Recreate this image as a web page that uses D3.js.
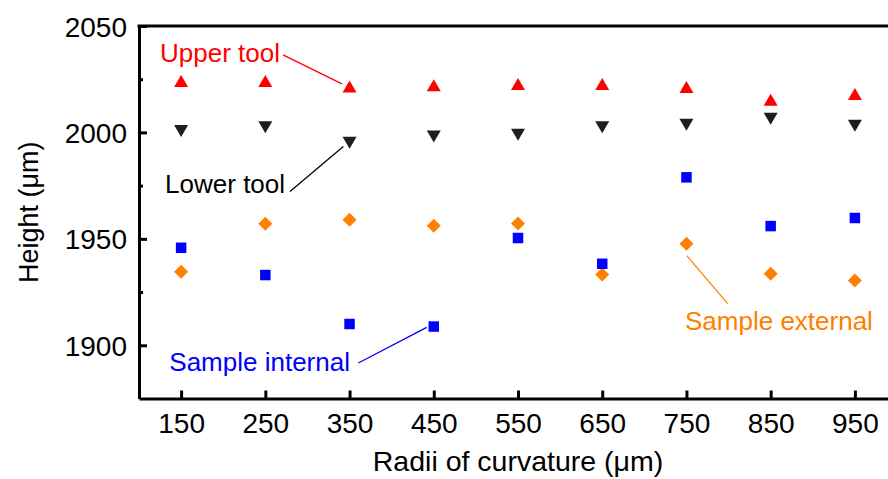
<!DOCTYPE html>
<html>
<head>
<meta charset="utf-8">
<script src="https://cdn.jsdelivr.net/npm/d3@7/dist/d3.min.js"></script>
<style>
  html, body { margin: 0; padding: 0; background: #fff; }
  svg { display: block; }
  text { font-family: "Liberation Sans", Arial, sans-serif; }
</style>
</head>
<body>
<svg id="chart" width="888" height="479"></svg>
<script>
// ---- data ----
const radii = [150, 250, 350, 450, 550, 650, 750, 850, 950];
const upperTool = [2024.2, 2024.2, 2021.6, 2022.2, 2022.7, 2022.8, 2021.4, 2015.3, 2018.1];
const lowerTool = [2000.7, 2002.4, 1995.2, 1998.1, 1998.9, 2002.4, 2003.6, 2006.4, 2003.1];
const sampleInternal = [1945.8, 1933.0, 1910.0, 1908.8, 1950.4, 1938.3, 1978.9, 1956.0, 1959.8];
const sampleExternal = [1934.6, 1957.1, 1959.0, 1956.2, 1957.2, 1933.2, 1947.7, 1933.6, 1930.4];
const xTicks = [150, 250, 350, 450, 550, 650, 750, 850, 950];
const yTicks = [1900, 1950, 2000, 2050];
const yMinorTicks = [1925, 1975, 2025];
const xDomain = [100, 1000];
const yDomain = [1875, 2050];

// annotations in data units: label position and leader line ends
const labels = [
  { text: "Upper tool",      color: "#ff0000", x: 125, y: 2033.3, line: [[271, 2036.4], [341, 2022.8]] },
  { text: "Lower tool",      color: "#000000", x: 131, y: 1971.6, line: [[279.3, 1972.3], [342.6, 1993.4]] },
  { text: "Sample internal", color: "#0000ff", x: 136, y: 1887.8, line: [[360.4, 1891.7], [441.6, 1908.4]] },
  { text: "Sample external", color: "#ff8000", x: 748.3, y: 1907.4, line: [[750.3, 1942.1], [799, 1919.6]] }
];

// ---- layout ----
const svg = d3.select("#chart");
const mLeft = 139, mRight = 897, mTop = 26, mBottom = 398.5;
const x = d3.scaleLinear().domain(xDomain).range([mLeft, mRight]);
const y = d3.scaleLinear().domain(yDomain).range([mBottom, mTop]);

// marker shapes (centered at bbox center)
function triUp(w, h) { return `M0,${-h/2}L${w/2},${h/2}L${-w/2},${h/2}Z`; }
function triDown(w, h) { return `M0,${h/2}L${w/2},${-h/2}L${-w/2},${-h/2}Z`; }
function square(s) { return `M${-s/2},${-s/2}H${s/2}V${s/2}H${-s/2}Z`; }
function diamond(r) { return `M0,${-r}L${r},0L0,${r}L${-r},0Z`; }

const series = [
  { values: sampleExternal, color: "#ff8000", path: diamond(7) },
  { values: sampleInternal, color: "#0000ff", path: square(10.5) },
  { values: lowerTool,      color: "#1e1e1e", path: triDown(14, 12) },
  { values: upperTool,      color: "#ff0000", path: triUp(14, 12) }
];

series.forEach(s => {
  svg.append("g").selectAll("path")
    .data(radii.map((r, i) => [r, s.values[i]]))
    .join("path")
    .attr("d", s.path)
    .attr("fill", s.color)
    .attr("transform", d => `translate(${x(d[0])},${y(d[1])})`);
});

// ---- axes ----
const axisColor = "#000";
const fmt = d3.format("d");
const gx = svg.append("g").attr("transform", `translate(0,${mBottom})`)
  .call(d3.axisBottom(x).tickValues(xTicks).tickFormat(fmt).tickSize(-8).tickPadding(14).tickSizeOuter(0));
const gy = svg.append("g").attr("transform", `translate(${mLeft},0)`)
  .call(d3.axisLeft(y).tickValues(yTicks).tickFormat(fmt).tickSize(-8).tickPadding(12).tickSizeOuter(0));
const gym = svg.append("g").attr("transform", `translate(${mLeft},0)`)
  .call(d3.axisLeft(y).tickValues(yMinorTicks).tickSize(-4).tickFormat("").tickSizeOuter(0));
gym.select(".domain").remove();

[gx, gy, gym].forEach(g => {
  g.selectAll(".domain").attr("stroke", axisColor).attr("stroke-width", 3);
  g.selectAll(".tick line").attr("stroke", axisColor).attr("stroke-width", 3);
  g.selectAll(".tick text").attr("fill", "#000").style("font-size", "28px")
    .style("font-family", '"Liberation Sans", Arial, sans-serif');
});
gy.selectAll(".tick text").attr("dy", "0.36em");
gx.selectAll(".tick text").attr("dy", "0.72em");

// top and right frame
svg.append("line").attr("x1", mLeft - 1.5).attr("x2", mRight).attr("y1", mTop).attr("y2", mTop)
  .attr("stroke", axisColor).attr("stroke-width", 3);
svg.append("line").attr("x1", mRight).attr("x2", mRight).attr("y1", mTop).attr("y2", mBottom)
  .attr("stroke", axisColor).attr("stroke-width", 3);

// axis titles
svg.append("text").attr("x", (mLeft + mRight) / 2).attr("y", 471)
  .attr("text-anchor", "middle").style("font-size", "28.5px").attr("fill", "#000")
  .text("Radii of curvature (μm)");
svg.append("text").attr("transform", `translate(38,${(mTop + mBottom) / 2}) rotate(-90)`)
  .attr("text-anchor", "middle").style("font-size", "27px").attr("fill", "#000")
  .text("Height (μm)");

// annotations
labels.forEach(l => {
  svg.append("line")
    .attr("x1", x(l.line[0][0])).attr("y1", y(l.line[0][1]))
    .attr("x2", x(l.line[1][0])).attr("y2", y(l.line[1][1]))
    .attr("stroke", l.color).attr("stroke-width", 1.3);
  svg.append("text").attr("x", x(l.x)).attr("y", y(l.y))
    .style("font-size", "26px").attr("fill", l.color).text(l.text);
});
</script>
</body>
</html>
